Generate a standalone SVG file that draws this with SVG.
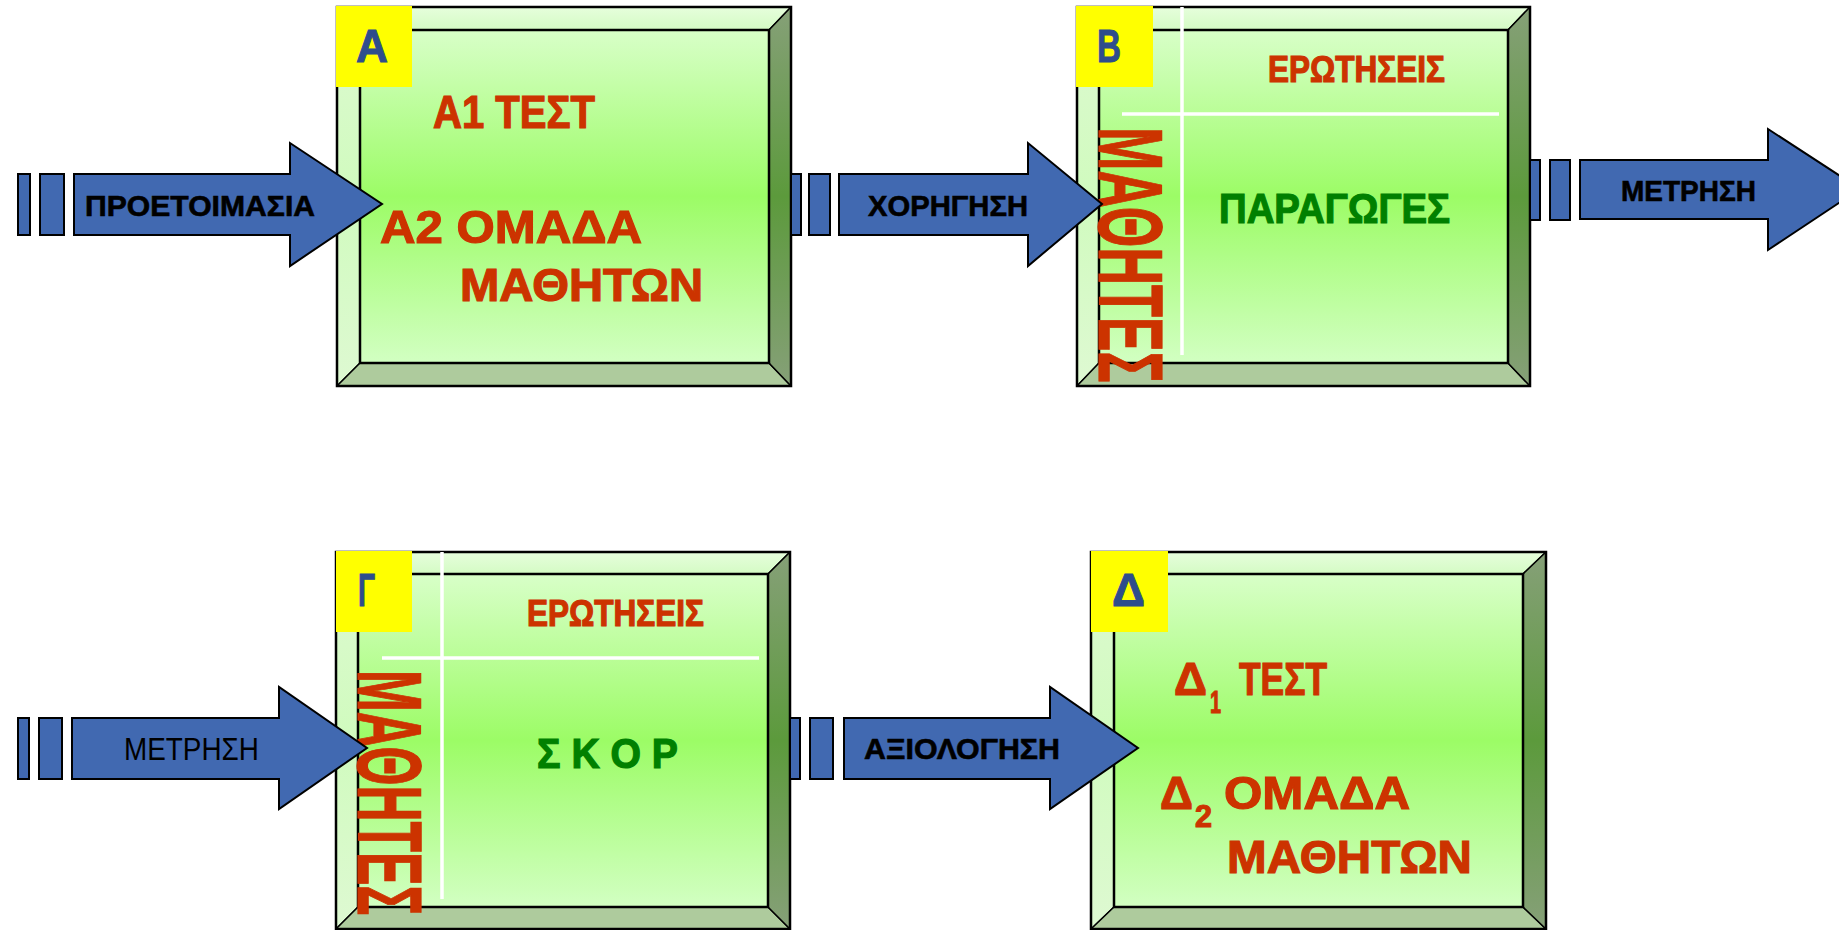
<svg xmlns="http://www.w3.org/2000/svg" width="1839" height="930" viewBox="0 0 1839 930">
<style>
.ob{fill:none;stroke:#000;stroke-width:2.5}
.bv{stroke:#000;stroke-width:1.5;stroke-linejoin:round}
.tb{fill:url(#topG)}
.lb{fill:url(#leftG)}
.bb{fill:#aecb9d}
.rb{fill:url(#rightG)}
.in{fill:url(#innerG);stroke:#000;stroke-width:2.5}
.yl{fill:#ffff00}
.lt{font-family:"Liberation Sans",Arial,sans-serif;font-weight:bold;font-size:47px;fill:#2e4d8c;stroke:#2e4d8c;stroke-width:1}
.rt{font-family:"Liberation Sans",Arial,sans-serif;font-weight:bold;fill:#cc3300;stroke:#cc3300;stroke-width:1.2}
.gt{font-family:"Liberation Sans",Arial,sans-serif;font-weight:bold;fill:#008000;stroke:#008000;stroke-width:1.2}
.wl{stroke:#ffffff;stroke-width:3.5;fill:none}
.ar{fill:#4169b1;stroke:#000;stroke-width:2;stroke-linejoin:miter}
.at{font-family:"Liberation Sans",Arial,sans-serif;font-weight:bold;font-size:29px;fill:#000;stroke:#000;stroke-width:0.6}
.an{font-family:"Liberation Sans",Arial,sans-serif;font-weight:normal;font-size:31px;fill:#000}
</style>
<defs>
<linearGradient id="innerG" x1="0" y1="0" x2="0" y2="1">
<stop offset="0" stop-color="#d8ffc8"/>
<stop offset="0.5" stop-color="#9cfc66"/>
<stop offset="1" stop-color="#d2ffc2"/>
</linearGradient>
<linearGradient id="rightG" x1="0" y1="0" x2="0" y2="1">
<stop offset="0" stop-color="#86a078"/>
<stop offset="0.5" stop-color="#5c9a3c"/>
<stop offset="1" stop-color="#86a078"/>
</linearGradient>
<linearGradient id="topG" x1="0" y1="0" x2="0" y2="1">
<stop offset="0" stop-color="#e6fedc"/>
<stop offset="1" stop-color="#d4fbc4"/>
</linearGradient>
<linearGradient id="leftG" x1="0" y1="0" x2="0" y2="1">
<stop offset="0" stop-color="#def9d2"/>
<stop offset="0.5" stop-color="#d0fbbe"/>
<stop offset="1" stop-color="#def9d2"/>
</linearGradient>
</defs>
<rect width="1839" height="930" fill="#ffffff"/>

<g id="node-A">
<polygon class="bv tb" points="337,7 791,7 769,30 360,30"/>
<polygon class="bv lb" points="337,7 360,30 360,363 337,386"/>
<polygon class="bv bb" points="337,386 360,363 769,363 791,386"/>
<polygon class="bv rb" points="791,7 791,386 769,363 769,30"/>
<rect class="in" x="360" y="30" width="409" height="333"/>
<rect class="ob" x="337" y="7" width="454" height="379"/>
<rect class="yl" x="336" y="6" width="76" height="81"/>
<text class="lt" x="356" y="62" textLength="32" lengthAdjust="spacingAndGlyphs">Α</text>
<text class="rt" x="433" y="128" font-size="47" textLength="162" lengthAdjust="spacingAndGlyphs">Α1 ΤΕΣΤ</text>
<text class="rt" x="380" y="243" font-size="47" textLength="262" lengthAdjust="spacingAndGlyphs">Α2 ΟΜΑΔΑ</text>
<text class="rt" x="460" y="301" font-size="47" textLength="243" lengthAdjust="spacingAndGlyphs">ΜΑΘΗΤΩΝ</text>
</g>

<g id="node-B">
<polygon class="bv tb" points="1077,7 1530,7 1508,30 1099,30"/>
<polygon class="bv lb" points="1077,7 1099,30 1099,363 1077,386"/>
<polygon class="bv bb" points="1077,386 1099,363 1508,363 1530,386"/>
<polygon class="bv rb" points="1530,7 1530,386 1508,363 1508,30"/>
<rect class="in" x="1099" y="30" width="409" height="333"/>
<rect class="ob" x="1077" y="7" width="453" height="379"/>
<line class="wl" x1="1182" y1="7" x2="1182" y2="355"/>
<line class="wl" x1="1122" y1="114" x2="1499" y2="114"/>
<rect class="yl" x="1076" y="6" width="77" height="81"/>
<text class="lt" x="1097" y="62" textLength="24" lengthAdjust="spacingAndGlyphs">Β</text>
<text class="rt" x="1268" y="82" font-size="36" textLength="177" lengthAdjust="spacingAndGlyphs">ΕΡΩΤΗΣΕΙΣ</text>
<text class="gt" x="1219" y="223" font-size="42" textLength="231" lengthAdjust="spacingAndGlyphs">ΠΑΡΑΓΩΓΕΣ</text>
<text class="rt" transform="translate(1099,127) rotate(90) scale(0.573,1)" x="0" y="0" font-size="91">ΜΑΘΗΤΕΣ</text>
</g>

<g id="node-G">
<polygon class="bv tb" points="336,552 790,552 768,574 358,574"/>
<polygon class="bv lb" points="336,552 358,574 358,907 336,929"/>
<polygon class="bv bb" points="336,929 358,907 768,907 790,929"/>
<polygon class="bv rb" points="790,552 790,929 768,907 768,574"/>
<rect class="in" x="358" y="574" width="410" height="333"/>
<rect class="ob" x="336" y="552" width="454" height="377"/>
<line class="wl" x1="442" y1="552" x2="442" y2="899"/>
<line class="wl" x1="382" y1="658" x2="759" y2="658"/>
<rect class="yl" x="336" y="551" width="76" height="81"/>
<text class="lt" x="358" y="606" textLength="17" lengthAdjust="spacingAndGlyphs">Γ</text>
<text class="rt" x="527" y="626" font-size="36" textLength="177" lengthAdjust="spacingAndGlyphs">ΕΡΩΤΗΣΕΙΣ</text>
<text class="gt" x="537" y="768" font-size="42" textLength="141" lengthAdjust="spacingAndGlyphs">Σ Κ Ο Ρ</text>
<text class="rt" transform="translate(358,670) rotate(90) scale(0.55,1)" x="0" y="0" font-size="91">ΜΑΘΗΤΕΣ</text>
</g>

<g id="node-D">
<polygon class="bv tb" points="1091,552 1546,552 1523,574 1114,574"/>
<polygon class="bv lb" points="1091,552 1114,574 1114,907 1091,929"/>
<polygon class="bv bb" points="1091,929 1114,907 1523,907 1546,929"/>
<polygon class="bv rb" points="1546,552 1546,929 1523,907 1523,574"/>
<rect class="in" x="1114" y="574" width="409" height="333"/>
<rect class="ob" x="1091" y="552" width="455" height="377"/>
<rect class="yl" x="1091" y="551" width="77" height="81"/>
<text class="lt" x="1112" y="606" textLength="33" lengthAdjust="spacingAndGlyphs">Δ</text>
<text class="rt" x="1174" y="695" font-size="47" textLength="33" lengthAdjust="spacingAndGlyphs">Δ</text>
<text class="rt" x="1210" y="713" font-size="32" textLength="11" lengthAdjust="spacingAndGlyphs">1</text>
<text class="rt" x="1239" y="695" font-size="47" textLength="88" lengthAdjust="spacingAndGlyphs">ΤΕΣΤ</text>
<text class="rt" x="1160" y="809" font-size="47" textLength="33" lengthAdjust="spacingAndGlyphs">Δ</text>
<text class="rt" x="1195" y="827" font-size="32" textLength="17" lengthAdjust="spacingAndGlyphs">2</text>
<text class="rt" x="1224" y="809" font-size="47" textLength="186" lengthAdjust="spacingAndGlyphs">ΟΜΑΔΑ</text>
<text class="rt" x="1227" y="873" font-size="47" textLength="245" lengthAdjust="spacingAndGlyphs">ΜΑΘΗΤΩΝ</text>
</g>

<g id="connectors">
<g id="arrow-proetoimasia">
<rect class="ar" x="18" y="174" width="12" height="61"/>
<rect class="ar" x="40" y="174" width="24" height="61"/>
<polygon class="ar" points="74,174 290,174 290,143 382,204 290,266 290,235 74,235"/>
<text class="at" x="85" y="216" textLength="230" lengthAdjust="spacingAndGlyphs">ΠΡΟΕΤΟΙΜΑΣΙΑ</text>
</g>
<g id="arrow-xorigisi">
<rect class="ar" x="791" y="174" width="10" height="61"/>
<rect class="ar" x="809" y="174" width="21" height="61"/>
<polygon class="ar" points="839,174 1028,174 1028,143 1102,204 1028,266 1028,235 839,235"/>
<text class="at" x="868" y="216" textLength="160" lengthAdjust="spacingAndGlyphs">ΧΟΡΗΓΗΣΗ</text>
</g>
<g id="arrow-metrisi-top">
<rect class="ar" x="1530" y="160" width="10" height="60"/>
<rect class="ar" x="1550" y="160" width="20" height="60"/>
<polygon class="ar" points="1580,160 1768,160 1768,129 1860,189 1768,250 1768,219 1580,219"/>
<text class="at" x="1621" y="201" font-size="30" textLength="135" lengthAdjust="spacingAndGlyphs">ΜΕΤΡΗΣΗ</text>
</g>
<g id="arrow-metrisi-bottom">
<rect class="ar" x="18" y="718" width="11" height="61"/>
<rect class="ar" x="39" y="718" width="23" height="61"/>
<polygon class="ar" points="72,718 279,718 279,687 367,748 279,809 279,779 72,779"/>
<text class="an" x="124" y="760" textLength="135" lengthAdjust="spacingAndGlyphs">ΜΕΤΡΗΣΗ</text>
</g>
<g id="arrow-axiologisi">
<rect class="ar" x="790" y="718" width="10" height="61"/>
<rect class="ar" x="810" y="718" width="23" height="61"/>
<polygon class="ar" points="844,718 1050,718 1050,687 1138,748 1050,809 1050,779 844,779"/>
<text class="at" x="864" y="759" textLength="196" lengthAdjust="spacingAndGlyphs">ΑΞΙΟΛΟΓΗΣΗ</text>
</g>
</g>
</svg>
